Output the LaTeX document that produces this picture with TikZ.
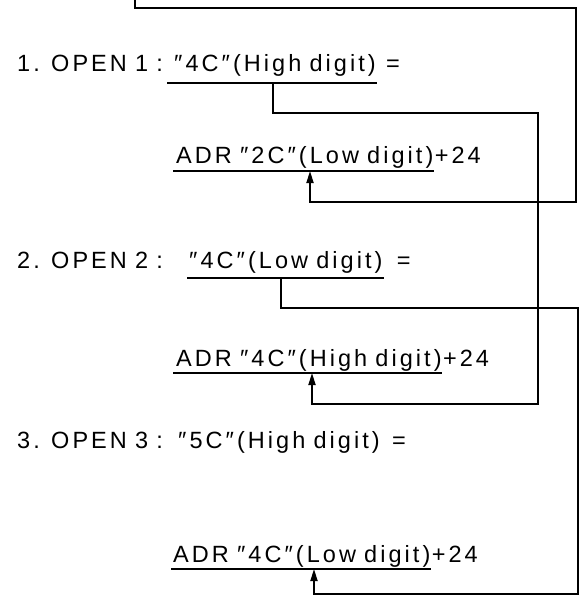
\documentclass[tikz,border=0pt]{standalone}
\usepackage{fontspec}
\setmainfont{Liberation Sans}[LetterSpace=13,WordSpace=0.85]
\usetikzlibrary{arrows.meta}
\begin{document}
\begin{tikzpicture}[x=1pt,y=-1pt,
  txt/.style={anchor=base west, inner sep=0pt, font=\fontsize{23.5}{24}\selectfont},
  wire/.style={line width=1.8pt},
  uline/.style={line width=1.3pt},
  arr/.style={-{Triangle[length=12pt,width=7pt]}}]
\useasboundingbox (0,0) rectangle (580,602);
% ---------- line 1
\node[txt] (n1) at (17,71) {1. OPEN 1 :};
\node[txt] (q1) at (174,71) {″4C″(High digit)};
\node[txt, xshift=10pt] (e1) at (q1.base east) {=};
\draw[uline] ([xshift=-7pt,yshift=-12pt]q1.base west) -- ([xshift=1pt,yshift=-12pt]q1.base east);
% ---------- ADR 1
\node[txt] (a1) at (176,163) {ADR ″2C″(Low digit)};
\node[txt, xshift=1pt] (p1) at (a1.base east) {+24};
\draw[uline] ([xshift=-3pt,yshift=-8pt]a1.base west) -- ([yshift=-8pt]a1.base east);
% ---------- line 2
\node[txt] (n2) at (17,268) {2. OPEN 2 :};
\node[txt] (q2) at (189,268) {″4C″(Low digit)};
\node[txt, xshift=14pt] (e2) at (q2.base east) {=};
\draw[uline] ([xshift=-2pt,yshift=-10pt]q2.base west) -- ([xshift=1pt,yshift=-10pt]q2.base east);
% ---------- ADR 2
\node[txt] (a2) at (176,366) {ADR ″4C″(High digit)};
\node[txt, xshift=1pt] (p2) at (a2.base east) {+24};
\draw[uline] ([xshift=-3pt,yshift=-7pt]a2.base west) -- ([yshift=-7pt]a2.base east);
% ---------- line 3
\node[txt] (n3) at (17,448) {3. OPEN 3 :};
\node[txt] (q3) at (178,448) {″5C″(High digit)};
\node[txt, xshift=12pt] (e3) at (q3.base east) {=};
% ---------- ADR 3
\node[txt] (a3) at (173,562) {ADR ″4C″(Low digit)};
\node[txt, xshift=1pt] (p3) at (a3.base east) {+24};
\draw[uline] ([xshift=-2pt,yshift=-7pt]a3.base west) -- ([yshift=-7pt]a3.base east);
% ---------- connectors
\coordinate (top0) at (135,0);
\coordinate (top1) at (135,8);
\coordinate (top2) at (576,8);
\coordinate (r1) at (576,202);
\coordinate (r1a) at (310,202);
\coordinate (t1) at (310,171);
\draw[wire, arr] (top0) -- (top1) -- (top2) -- (r1) -- (r1a) -- (t1);
\coordinate (d1) at (273,83);
\coordinate (h1) at (273,113);
\coordinate (h1r) at (538,113);
\coordinate (r2) at (538,404);
\coordinate (r2a) at (312,404);
\coordinate (t2) at (312,373);
\draw[wire, arr] (d1) -- (h1) -- (h1r) -- (r2) -- (r2a) -- (t2);
\coordinate (d2) at (281,278);
\coordinate (h2) at (281,308);
\coordinate (h2r) at (578,308);
\coordinate (r3) at (578,594);
\coordinate (r3a) at (314,594);
\coordinate (t3) at (314,569);
\draw[wire, arr] (d2) -- (h2) -- (h2r) -- (r3) -- (r3a) -- (t3);
\end{tikzpicture}
\end{document}
